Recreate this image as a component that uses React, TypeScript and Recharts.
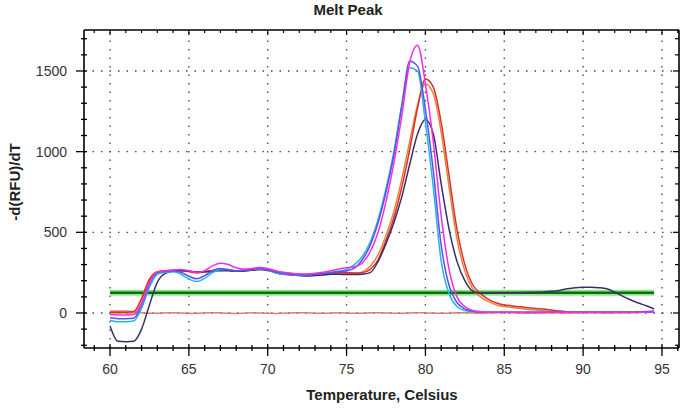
import { Line, LineChart, ReferenceLine, XAxis, YAxis } from "recharts";

// Melt peak curves, -d(RFU)/dT vs temperature, sampled every 0.5 °C.
const TEMPS = [
  60, 60.5, 61, 61.5, 62, 62.5, 63, 63.5, 64, 64.5,
  65, 65.5, 66, 66.5, 67, 67.5, 68, 68.5, 69, 69.5,
  70, 70.5, 71, 71.5, 72, 72.5, 73, 73.5, 74, 74.5,
  75, 75.5, 76, 76.5, 77, 77.5, 78, 78.5, 79, 79.5,
  80, 80.5, 81, 81.5, 82, 82.5, 83, 83.5, 84, 84.5,
  85, 85.5, 86, 86.5, 87, 87.5, 88, 88.5, 89, 89.5,
  90, 90.5, 91, 91.5, 92, 92.5, 93, 93.5, 94, 94.5,
];

const MAGENTA = [
  -10, -12, -12, -10, 60, 190, 255, 262, 266, 270,
  262, 252, 262, 292, 308, 300, 280, 272, 276, 282,
  276, 262, 252, 246, 242, 242, 246, 252, 262, 272,
  280, 286, 310, 380, 500, 690, 930, 1220, 1550, 1660,
  1420, 1060, 600, 270, 100, 40, 15, 8, 5, 5,
  4, 4, 3, 3, 3, 3, 3, 3, 3, 3,
  3, 3, 3, 3, 3, 3, 3, 4, 5, 8,
];

const VIOLET = [
  -30, -35, -35, -32, 50, 180, 250, 258, 262, 252,
  228, 212, 232, 262, 275, 268, 260, 264, 270, 276,
  270, 255, 245, 240, 236, 235, 240, 245, 250, 256,
  262, 278, 330, 420, 560, 750, 980, 1280, 1560, 1530,
  1260, 880, 420, 170, 65, 25, 10, 6, 5, 5,
  4, 4, 4, 4, 4, 4, 4, 4, 4, 4,
  4, 4, 4, 4, 4, 4, 5, 6, 8, 10,
];

const CYAN = [
  -45, -55, -55, -50, 30, 160, 240, 252, 255, 240,
  210, 195, 215, 250, 270, 270, 262, 265, 270, 272,
  268, 250, 240, 237, 233, 235, 240, 247, 252, 260,
  270, 300, 350, 440, 580, 770, 1000, 1290, 1520, 1500,
  1180, 780, 320, 120, 40, 15, 8, 5, 5, 5,
  5, 5, 5, 5, 5, 5, 5, 5, 5, 5,
  5, 5, 5, 5, 5, 5, 6, 7, 9, 12,
];

const RED = [
  5, 5, 5, 8, 90, 210, 255, 262, 265, 265,
  258, 250, 256, 264, 270, 266, 258, 262, 268, 272,
  268, 258, 250, 245, 240, 238, 240, 244, 248, 250,
  250, 248, 250, 270, 330, 450, 590, 780, 1010, 1270,
  1450, 1400, 1180, 850, 520, 300, 175, 120, 85, 62,
  50, 44, 38, 33, 28, 24, 18, 12, 8, 6,
  5, 5, 5, 5, 5, 5, 5, 5, 6, 8,
];

const ORANGE = [
  0, 0, 0, 2, 85, 205, 255, 260, 263, 262,
  255, 248, 254, 262, 268, 265, 258, 260, 266, 270,
  266, 256, 248, 243, 238, 236, 238, 242, 245, 246,
  245, 245, 255, 290, 360, 480, 630, 830, 1060, 1290,
  1420, 1360, 1120, 780, 460, 260, 150, 100, 70, 50,
  40, 34, 28, 22, 18, 14, 10, 8, 6, 5,
  5, 5, 5, 5, 5, 5, 5, 5, 5, 6,
];

const NAVY = [
  -80, -175, -178, -175, -100, 50, 190, 245, 258, 262,
  260, 255, 255, 258, 262, 262, 258, 260, 265, 270,
  265, 250, 240, 235, 232, 230, 232, 235, 240, 240,
  238, 238, 240, 250, 320, 430, 560, 720, 920, 1110,
  1200, 1110, 800, 520, 320, 200, 135, 122, 122, 124,
  125, 126, 126, 127, 128, 130, 134, 140, 150, 157,
  160, 160, 157, 150, 130, 105, 82, 62, 45, 25,
];

const NTC = [
  10, 12, 12, 10, 2, -2, -2, 0, 2, 0,
  -3, -2, 0, 2, 0, -2, -3, -1, 1, 0,
  -2, -3, -1, 0, 2, 1, -1, -2, 0, 1,
  0, -2, -1, 1, 2, 0, -1, -2, 0, 2,
  1, 0, -2, -1, 1, 2, 0, -1, 0, 1,
  2, 1, 0, -1, 0, 1, 2, 1, 0, 1,
  2, 2, 1, 0, 1, 2, 2, 3, 4, 5,
];

const THRESHOLD = 125;

const X_MAJOR = [60, 65, 70, 75, 80, 85, 90, 95];
const X_MINOR = [
  59, 60, 61, 62, 63, 64, 65, 66, 67, 68, 69, 70, 71, 72, 73, 74, 75, 76, 77,
  78, 79, 80, 81, 82, 83, 84, 85, 86, 87, 88, 89, 90, 91, 92, 93, 94, 95, 96,
];
const Y_MAJOR = [0, 500, 1000, 1500];
const Y_MINOR = [
  -200, -100, 0, 100, 200, 300, 400, 500, 600, 700, 800, 900, 1000, 1100, 1200,
  1300, 1400, 1500, 1600, 1700,
];

const SAMPLES = [
  { key: "ntc", color: "#d9806c", values: NTC },
  { key: "orange", color: "#e8843a", values: ORANGE },
  { key: "red", color: "#dc2f2a", values: RED },
  { key: "navy", color: "#3a2f6a", values: NAVY },
  { key: "cyan", color: "#22b6e6", values: CYAN },
  { key: "violet", color: "#5a4ff0", values: VIOLET },
  { key: "magenta", color: "#f22ee0", values: MAGENTA },
];

const rows = TEMPS.map((t, i) => {
  const r: Record<string, number> = { t, thr: THRESHOLD };
  SAMPLES.forEach((s) => {
    r[s.key] = s.values[i];
  });
  return r;
});

const FONT = "'Liberation Sans', Arial, sans-serif";
const X_DOMAIN: [number, number] = [58.35, 96.08];
const Y_DOMAIN: [number, number] = [-217, 1754];

function BottomTick(props: any) {
  const { x, y, payload } = props;
  const major = X_MAJOR.includes(payload.value);
  return (
    <g>
      <line x1={x} x2={x} y1={y - (major ? 4 : 3)} y2={y + (major ? 8 : 3)} stroke="#000" strokeWidth={1.3} />
      {major && (
        <text x={x} y={y + 26} textAnchor="middle" fontFamily={FONT} fontSize={14} fill="#333">
          {payload.value}
        </text>
      )}
    </g>
  );
}

function TopTick(props: any) {
  const { x, y, payload } = props;
  const major = X_MAJOR.includes(payload.value);
  return <line x1={x} x2={x} y1={y} y2={y + (major ? 5 : 3)} stroke="#000" strokeWidth={1.2} />;
}

function LeftTick(props: any) {
  const { x, y, payload } = props;
  const major = Y_MAJOR.includes(payload.value);
  return (
    <g>
      <line x1={x - (major ? 8 : 3)} x2={x + 3} y1={y} y2={y} stroke="#000" strokeWidth={1.3} />
      {major && (
        <text x={x - 17} y={y + 5} textAnchor="end" fontFamily={FONT} fontSize={14} fill="#333">
          {payload.value}
        </text>
      )}
    </g>
  );
}

function RightTick(props: any) {
  const { x, y, payload } = props;
  const major = Y_MAJOR.includes(payload.value);
  return <line x1={x - (major ? 6 : 4)} x2={x} y1={y} y2={y} stroke="#000" strokeWidth={1.2} />;
}

const axisLine = { stroke: "#000", strokeWidth: 1.6 };

export default function App() {
  return (
    <div style={{ position: "absolute", left: 0, top: 0, width: 685, height: 408, background: "#fff" }}>
      <LineChart
        width={685}
        height={408}
        data={rows}
        margin={{ top: 29, right: 5, bottom: 0, left: 0 }}
      >
        <XAxis
          xAxisId="b"
          type="number"
          dataKey="t"
          domain={X_DOMAIN}
          allowDataOverflow
          ticks={X_MINOR}
          interval={0}
          height={60}
          tickSize={0}
          tickMargin={0}
          tickLine={false}
          axisLine={axisLine}
          tick={(p: any) => <BottomTick {...p} />}
        />
        <XAxis
          xAxisId="t"
          orientation="top"
          type="number"
          dataKey="t"
          domain={X_DOMAIN}
          allowDataOverflow
          ticks={X_MINOR}
          interval={0}
          height={1}
          tickSize={0}
          tickMargin={0}
          tickLine={false}
          axisLine={axisLine}
          tick={(p: any) => <TopTick {...p} />}
        />
        <YAxis
          yAxisId="l"
          type="number"
          domain={Y_DOMAIN}
          allowDataOverflow
          ticks={Y_MINOR}
          interval={0}
          width={84}
          tickSize={0}
          tickMargin={0}
          tickLine={false}
          axisLine={axisLine}
          tick={(p: any) => <LeftTick {...p} />}
        />
        <YAxis
          yAxisId="r"
          orientation="right"
          type="number"
          domain={Y_DOMAIN}
          allowDataOverflow
          ticks={Y_MINOR}
          interval={0}
          width={1}
          tickSize={0}
          tickMargin={0}
          tickLine={false}
          axisLine={axisLine}
          tick={(p: any) => <RightTick {...p} />}
        />
        {X_MAJOR.map((v) => (
          <ReferenceLine
            key={`gx-${v}`}
            x={v}
            xAxisId="b"
            yAxisId="l"
            stroke="#444"
            strokeWidth={1.3}
            strokeDasharray="1.5 7"
          />
        ))}
        {Y_MAJOR.map((v) => (
          <ReferenceLine
            key={`gy-${v}`}
            y={v}
            xAxisId="b"
            yAxisId="l"
            stroke="#444"
            strokeWidth={1.3}
            strokeDasharray="1.5 7"
          />
        ))}
        <Line
          xAxisId="b"
          yAxisId="l"
          dataKey="thr"
          stroke="#8fe88f"
          strokeWidth={6}
          dot={false}
          isAnimationActive={false}
        />
        <Line
          xAxisId="b"
          yAxisId="l"
          dataKey="thr"
          stroke="#0b6e0b"
          strokeWidth={2.5}
          dot={false}
          isAnimationActive={false}
        />
        {SAMPLES.map((s) => (
          <Line
            key={s.key}
            xAxisId="b"
            yAxisId="l"
            dataKey={s.key}
            type="monotone"
            stroke={s.color}
            strokeWidth={1.5}
            dot={false}
            isAnimationActive={false}
          />
        ))}
      </LineChart>
      <div
        style={{
          position: "absolute",
          left: 348,
          top: 1,
          transform: "translateX(-50%)",
          fontFamily: FONT,
          fontWeight: "bold",
          fontSize: 15,
          color: "#222",
          whiteSpace: "nowrap",
        }}
      >
        Melt Peak
      </div>
      <div
        style={{
          position: "absolute",
          left: 382,
          top: 386,
          transform: "translateX(-50%)",
          fontFamily: FONT,
          fontWeight: "bold",
          fontSize: 15,
          color: "#222",
          whiteSpace: "nowrap",
        }}
      >
        Temperature, Celsius
      </div>
      <div
        style={{
          position: "absolute",
          left: 14,
          top: 182,
          transform: "translate(-50%, -50%) rotate(-90deg)",
          fontFamily: FONT,
          fontWeight: "bold",
          fontSize: 15,
          color: "#222",
          whiteSpace: "nowrap",
        }}
      >
        -d(RFU)/dT
      </div>
    </div>
  );
}
